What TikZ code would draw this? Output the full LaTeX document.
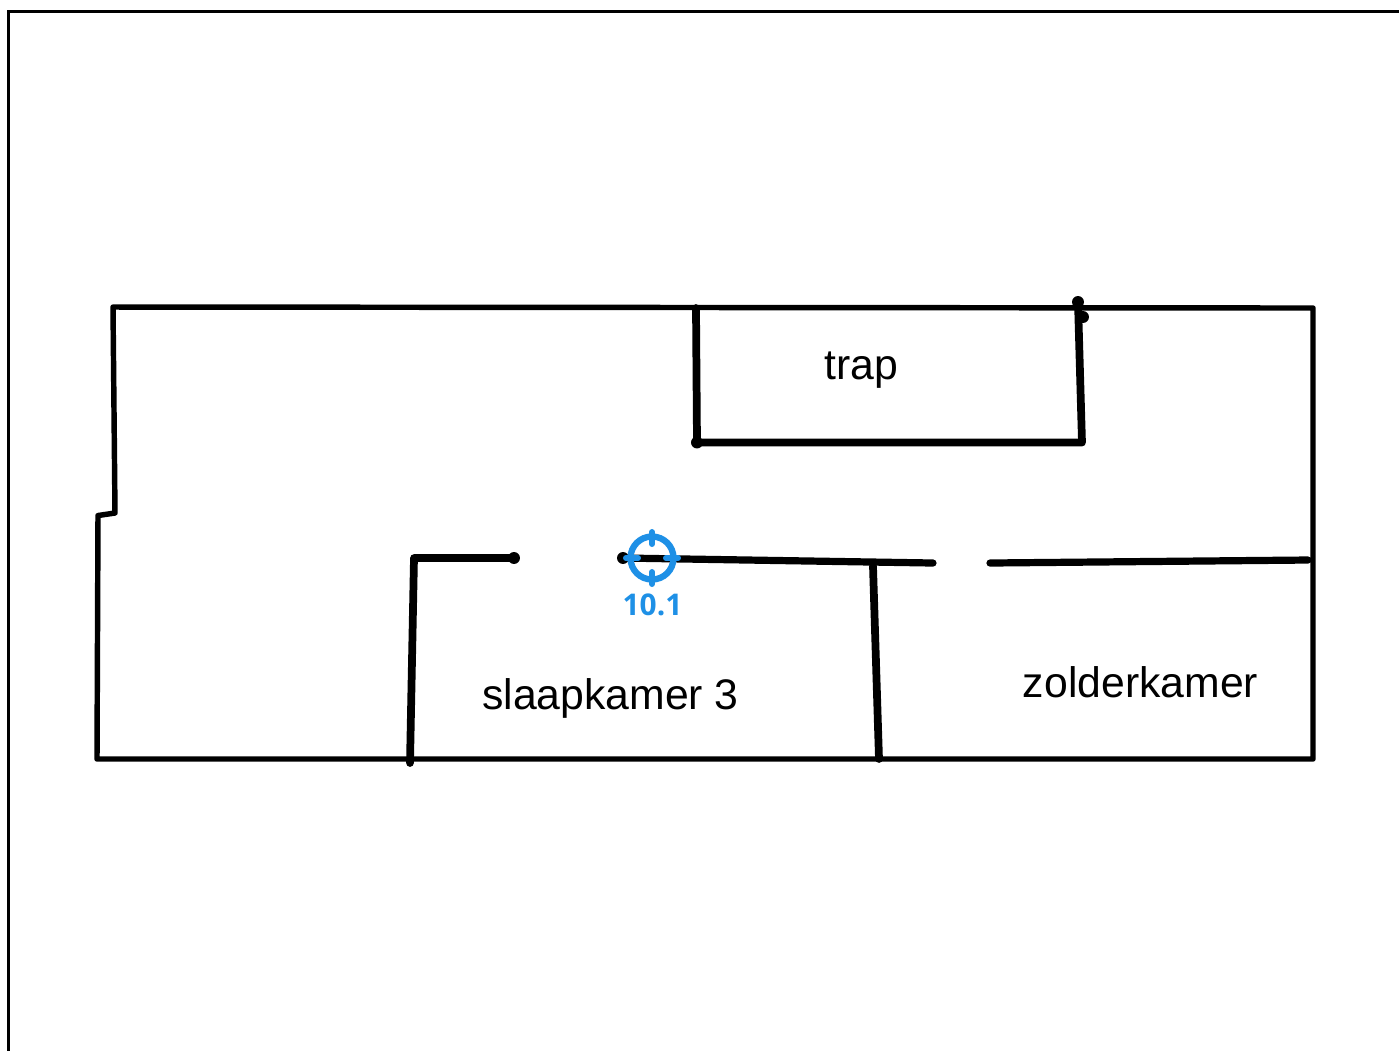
\documentclass[tikz,border=0pt]{standalone}
\usepackage{fontspec}
\setmainfont{Liberation Sans}
\newfontfamily\labelfont{Open Sans}
\usetikzlibrary{positioning}
\definecolor{targetblue}{HTML}{1E90E6}
\tikzset{
    target/.pic = {
    \draw[targetblue, line width=1.8pt] (0,0) circle (21.5);
    \draw[targetblue, line width=1.7pt, line cap=round] (-26,0) -- (-14,0);
    \draw[targetblue, line width=1.7pt, line cap=round] (14,0) -- (26,0);
    \draw[targetblue, line width=1.7pt, line cap=round] (0,-26) -- (0,-14);
    \draw[targetblue, line width=1.7pt, line cap=round] (0,14) -- (0,26);
    },
    outer/.style={line width=1.55pt, line join=round, line cap=round},
    wall/.style={line width=2.2pt, line join=round, line cap=round},
    thin wall/.style={line width=2.05pt, line join=round, line cap=round},
    wall end/.style={circle, fill=black, inner sep=0pt, minimum size=3.4pt},
    room/.style={font=\fontsize{12.15}{14}\selectfont},
}
\begin{document}
\begin{tikzpicture}[x=0.01cm, y=-0.01cm]
    \useasboundingbox (0,0) rectangle (1399,1050);

    % frame
    \draw[line width=0.85pt] (8.5,1060) -- (8.5,11.5) -- (1410,11.5);

    % floor outline
    \draw[outer] (113,307) -- (1313,308) -- (1313,759) -- (97,759)
        -- (98,515.5) -- (115,513) -- cycle;

    % trap
    \coordinate (t0) at (696,308);
    \coordinate (t1) at (697,442.5);
    \coordinate (t2) at (1082,442.5);
    \coordinate (t3) at (1078,302);
    \draw[wall] (t0) -- (t1) -- (t2) -- (t3);
    \node[wall end] at (t1) {};
    \node[wall end] at (t3) {};
    \node[wall end] at (1083,317) {};

    % inner walls
    \coordinate (s0) at (410,763);
    \coordinate (s1) at (414,558);
    \coordinate (s2) at (514,558);
    \coordinate (c0) at (623,558);
    \coordinate (c1) at (933,563);
    \coordinate (k0) at (873,566);
    \coordinate (k1) at (879,759);
    \coordinate (z0) at (990,563);
    \coordinate (z1) at (1308,560);
    \draw[wall] (s0) -- (s1) -- (s2);
    \node[wall end] at (s2) {};
    \draw[thin wall] (c0) -- (c1);
    \node[wall end] at (c0) {};
    \draw[wall] (k0) -- (k1);
    \draw[thin wall] (z0) -- (z1);

    \node[room] (trap) at (861,370) {trap};
    \node[room] (slaapkamer) at (610.5,698) {slaapkamer 3};
    \node[room] (zolderkamer) at (1140.5,682) {zolderkamer};

    \pic at (652,558) {target};
    \node[text=targetblue, font=\labelfont\bfseries\fontsize{8.5}{11}\selectfont] (meting) at (652.5,605) {10.1};
\end{tikzpicture}
\end{document}
